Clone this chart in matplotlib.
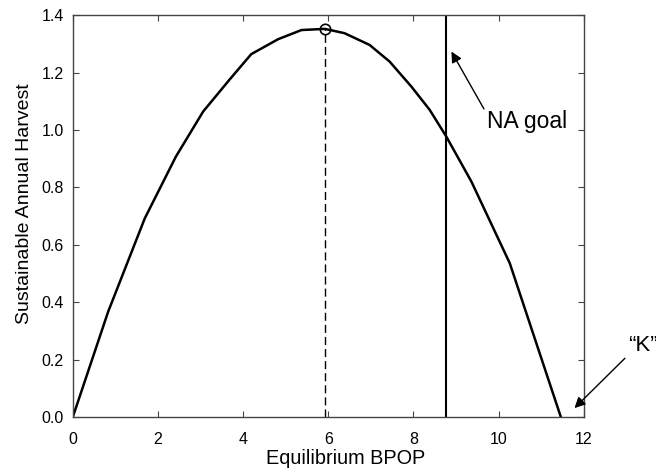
import matplotlib
matplotlib.use("Agg")
import matplotlib.pyplot as plt

# values
bpop = [0.0, 0.83, 1.69, 2.42, 3.06, 3.69, 4.19, 4.82, 5.37, 5.92, 6.38, 6.97,
        7.44, 7.95, 8.38, 8.77, 9.36, 10.26, 11.46]
harvest = [0.0, 0.367, 0.692, 0.907, 1.064, 1.177, 1.264, 1.316, 1.348, 1.352,
           1.337, 1.296, 1.238, 1.151, 1.07, 0.977, 0.82, 0.536, 0.0]
msy_bpop = 5.92
msy_harvest = 1.352
na_goal = 8.77
xticks = [0, 2, 4, 6, 8, 10, 12]
yticks = [0.0, 0.2, 0.4, 0.6, 0.8, 1.0, 1.2, 1.4]

plt.rcParams['font.family'] = ['Liberation Sans', 'DejaVu Sans']

fig = plt.figure(figsize=(6.56, 4.72), dpi=100)
ax = fig.add_axes([0.111, 0.1165, 0.779, 0.8515])

ax.plot(bpop, harvest, color='black', lw=1.8)
ax.plot([msy_bpop, msy_bpop], [0, msy_harvest], color='black', lw=1.0, ls=(0, (5.8, 2.9)))
ax.plot([msy_bpop], [msy_harvest], marker='o', mfc='none', mec='black', ms=7.5, mew=1.2)
ax.axvline(na_goal, color='black', lw=1.5)

# arrows start at the corner of the text, as in the original
ax.annotate('NA goal', xy=(8.89, 1.273), xytext=(9.72, 1.028),
            fontsize=16.5, va='center', ha='left',
            arrowprops=dict(arrowstyle='-|>', color='black', lw=1.0,
                            mutation_scale=16, shrinkA=0, shrinkB=0,
                            relpos=(0.0, 0.85)))
ax.annotate('\u201cK\u201d', xy=(11.78, 0.031), xytext=(13.03, 0.25),
            fontsize=16, va='center', ha='left', annotation_clip=False,
            arrowprops=dict(arrowstyle='-|>', color='black', lw=1.0,
                            mutation_scale=16, shrinkA=0, shrinkB=0,
                            relpos=(0.1, 0.15)))

ax.set_xlim(0, 12)
ax.set_ylim(0, 1.4)
ax.set_xticks(xticks)
ax.set_yticks(yticks)
ax.set_xticklabels([str(t) for t in xticks])
ax.set_yticklabels(['%.1f' % t for t in yticks])
ax.tick_params(direction='in', top=True, right=True, labelsize=11.5, length=4.5,
               color='#444444')
ax.tick_params(axis='x', pad=11)
ax.tick_params(axis='y', pad=6.5)
for s in ax.spines.values():
    s.set_color('#444444')
    s.set_linewidth(1.0)

ax.set_xlabel('Equilibrium BPOP', fontsize=14.3, va='center')
ax.set_ylabel('Sustainable Annual Harvest', fontsize=14, va='center')
ax.xaxis.set_label_coords(0.534, -0.102)
ax.yaxis.set_label_coords(-0.094, 0.531)

fig.savefig('out.png', dpi=100)
